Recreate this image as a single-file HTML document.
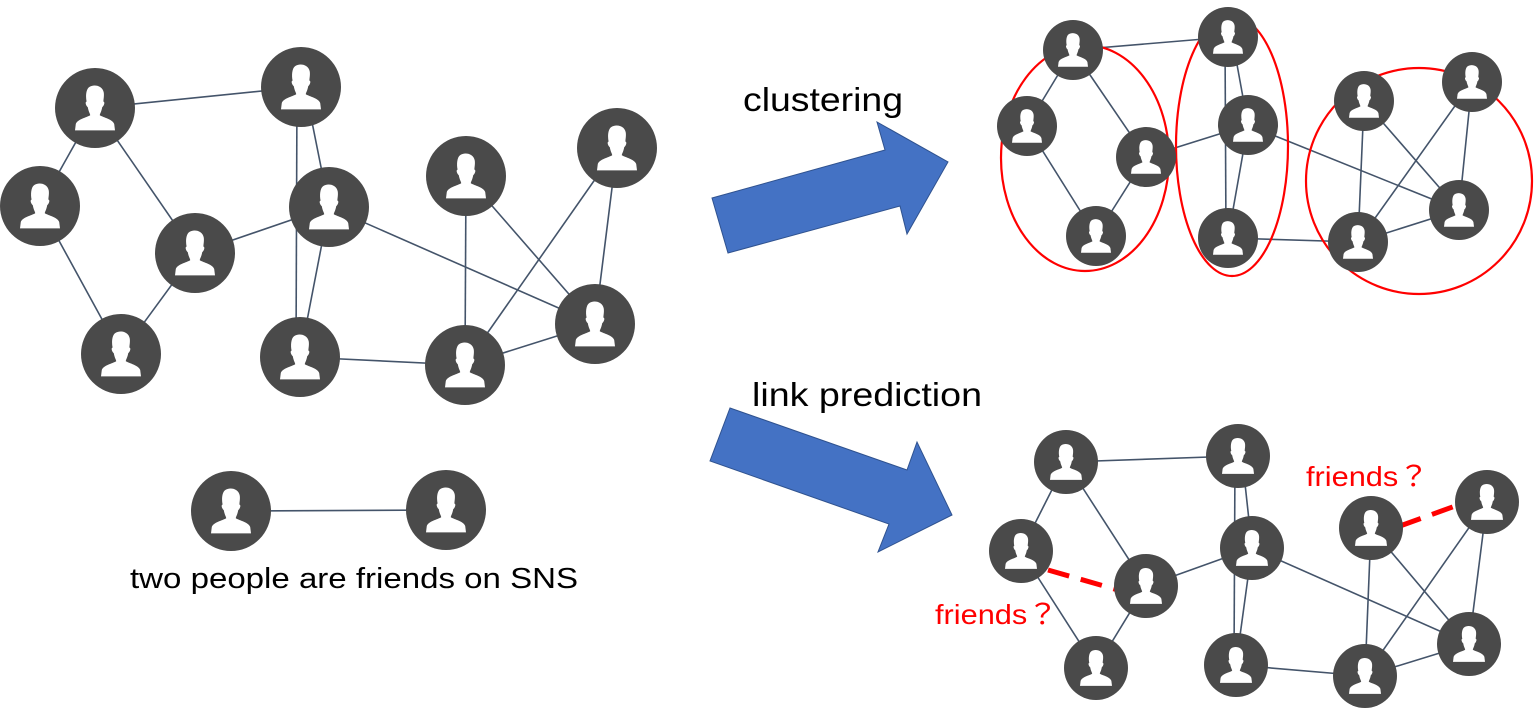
<!DOCTYPE html>
<html><head><meta charset="utf-8"><style>
html,body{margin:0;padding:0;background:#fff;}
svg{display:block;}
text{font-family:"Liberation Sans",Arial,"Noto Sans CJK JP",sans-serif;}
</style></head><body>
<svg width="1535" height="712" viewBox="0 0 1535 712" xmlns="http://www.w3.org/2000/svg">
<defs>
<g id="p">
<circle r="1" fill="#4a4a4a"/>
<path fill="#fff" d="M-0.15,-0.52 C-0.05,-0.6 0.19,-0.58 0.22,-0.38 C0.23,-0.28 0.21,-0.22 0.21,-0.16 C0.26,-0.15 0.22,-0.05 0.18,-0.02 C0.16,0.1 0.12,0.14 0.12,0.18 C0.22,0.24 0.44,0.28 0.48,0.4 L0.5,0.56 L-0.5,0.56 L-0.48,0.4 C-0.44,0.28 -0.22,0.24 -0.12,0.18 C-0.12,0.14 -0.16,0.1 -0.18,-0.02 C-0.22,-0.05 -0.26,-0.15 -0.21,-0.16 C-0.24,-0.3 -0.22,-0.47 -0.15,-0.52 Z"/>
</g>
</defs>
<g stroke="#44546a" stroke-width="1.6">
<line x1="95" y1="108" x2="301" y2="87"/><line x1="95" y1="108" x2="40" y2="206"/>
<line x1="95" y1="108" x2="195" y2="253"/><line x1="40" y1="206" x2="121" y2="354"/>
<line x1="195" y1="253" x2="121" y2="354"/><line x1="195" y1="253" x2="329" y2="207"/>
<line x1="297" y1="87" x2="296" y2="357"/><line x1="305" y1="87" x2="329" y2="207"/>
<line x1="329" y1="207" x2="300" y2="357"/><line x1="329" y1="207" x2="595" y2="324"/>
<line x1="466" y1="176" x2="465" y2="365"/><line x1="466" y1="176" x2="595" y2="324"/>
<line x1="617" y1="148" x2="465" y2="365"/><line x1="617" y1="148" x2="595" y2="324"/>
<line x1="300" y1="357" x2="465" y2="365"/><line x1="465" y1="365" x2="595" y2="324"/>
<line x1="231" y1="511" x2="446" y2="510"/>
<line x1="1073" y1="50" x2="1228" y2="37"/><line x1="1073" y1="50" x2="1027" y2="126"/>
<line x1="1073" y1="50" x2="1146" y2="157"/><line x1="1027" y1="126" x2="1096" y2="236"/>
<line x1="1146" y1="157" x2="1096" y2="236"/><line x1="1146" y1="157" x2="1248" y2="125"/>
<line x1="1225" y1="37" x2="1226" y2="238"/><line x1="1232" y1="37" x2="1248" y2="125"/>
<line x1="1248" y1="125" x2="1228" y2="238"/><line x1="1228" y1="238" x2="1358" y2="242"/>
<line x1="1248" y1="125" x2="1459" y2="210"/><line x1="1364" y1="101" x2="1459" y2="210"/>
<line x1="1472" y1="82" x2="1358" y2="242"/><line x1="1472" y1="82" x2="1459" y2="210"/>
<line x1="1364" y1="101" x2="1358" y2="242"/><line x1="1358" y1="242" x2="1459" y2="210"/>
<line x1="1066" y1="462" x2="1238" y2="456"/><line x1="1066" y1="462" x2="1021" y2="551"/>
<line x1="1066" y1="462" x2="1146" y2="586"/><line x1="1021" y1="551" x2="1096" y2="668"/>
<line x1="1146" y1="586" x2="1096" y2="668"/><line x1="1146" y1="586" x2="1252" y2="548"/>
<line x1="1235" y1="456" x2="1234" y2="665"/><line x1="1242" y1="456" x2="1252" y2="548"/>
<line x1="1252" y1="548" x2="1236" y2="665"/><line x1="1236" y1="665" x2="1365" y2="676"/>
<line x1="1252" y1="548" x2="1469" y2="644"/><line x1="1371" y1="528" x2="1469" y2="644"/>
<line x1="1487" y1="502" x2="1365" y2="676"/><line x1="1487" y1="502" x2="1469" y2="644"/>
<line x1="1371" y1="528" x2="1365" y2="676"/><line x1="1365" y1="676" x2="1469" y2="644"/>
</g>
<g stroke="#ff0000" stroke-width="5" stroke-dasharray="22,12">
<line x1="1048" y1="570" x2="1118" y2="590"/>
<line x1="1400" y1="526" x2="1458" y2="505"/>
</g>
<g fill="none" stroke="#ff0000" stroke-width="2.2">
<ellipse cx="1085" cy="158" rx="84" ry="113"/>
<ellipse cx="1232" cy="146" rx="56" ry="130"/>
<ellipse cx="1419" cy="181" rx="113" ry="113"/>
</g>
<g fill="#4472c4" stroke="#2f528f" stroke-width="1">
<polygon points="712,198 885,150 877,122 948,162 907,234 900,206 728,253"/>
<polygon points="730,408 907,470 917,442 952,515 878,552 889,524 710,461"/>
</g>
<g>
<use href="#p" transform="translate(95,108) scale(40)"/>
<use href="#p" transform="translate(301,87) scale(40)"/>
<use href="#p" transform="translate(40,206) scale(40)"/>
<use href="#p" transform="translate(195,253) scale(40)"/>
<use href="#p" transform="translate(329,207) scale(40)"/>
<use href="#p" transform="translate(466,176) scale(40)"/>
<use href="#p" transform="translate(617,148) scale(40)"/>
<use href="#p" transform="translate(121,354) scale(40)"/>
<use href="#p" transform="translate(300,357) scale(40)"/>
<use href="#p" transform="translate(465,365) scale(40)"/>
<use href="#p" transform="translate(595,324) scale(40)"/>
<use href="#p" transform="translate(231,511) scale(40)"/>
<use href="#p" transform="translate(446,510) scale(40)"/>
<use href="#p" transform="translate(1073,50) scale(30)"/>
<use href="#p" transform="translate(1027,126) scale(30)"/>
<use href="#p" transform="translate(1146,157) scale(30)"/>
<use href="#p" transform="translate(1096,236) scale(30)"/>
<use href="#p" transform="translate(1228,37) scale(30)"/>
<use href="#p" transform="translate(1248,125) scale(30)"/>
<use href="#p" transform="translate(1228,238) scale(30)"/>
<use href="#p" transform="translate(1364,101) scale(30)"/>
<use href="#p" transform="translate(1472,82) scale(30)"/>
<use href="#p" transform="translate(1459,210) scale(30)"/>
<use href="#p" transform="translate(1358,242) scale(30)"/>
<use href="#p" transform="translate(1066,462) scale(32)"/>
<use href="#p" transform="translate(1021,551) scale(32)"/>
<use href="#p" transform="translate(1146,586) scale(32)"/>
<use href="#p" transform="translate(1096,668) scale(32)"/>
<use href="#p" transform="translate(1238,456) scale(32)"/>
<use href="#p" transform="translate(1252,548) scale(32)"/>
<use href="#p" transform="translate(1236,665) scale(32)"/>
<use href="#p" transform="translate(1371,528) scale(32)"/>
<use href="#p" transform="translate(1487,502) scale(32)"/>
<use href="#p" transform="translate(1469,644) scale(32)"/>
<use href="#p" transform="translate(1365,676) scale(32)"/>
</g>
<text x="743" y="111" font-size="33" fill="#000" textLength="160" lengthAdjust="spacingAndGlyphs">clustering</text>
<text x="752" y="406" font-size="33" fill="#000" textLength="230" lengthAdjust="spacingAndGlyphs">link prediction</text>
<text x="130" y="588" font-size="29" fill="#000" textLength="448" lengthAdjust="spacingAndGlyphs">two people are friends on SNS</text>
<text x="935" y="624" font-size="28" fill="#ff0000" textLength="123" lengthAdjust="spacingAndGlyphs">friends？</text>
<text x="1306" y="486" font-size="28" fill="#ff0000" textLength="123" lengthAdjust="spacingAndGlyphs">friends？</text>
</svg>
</body></html>
